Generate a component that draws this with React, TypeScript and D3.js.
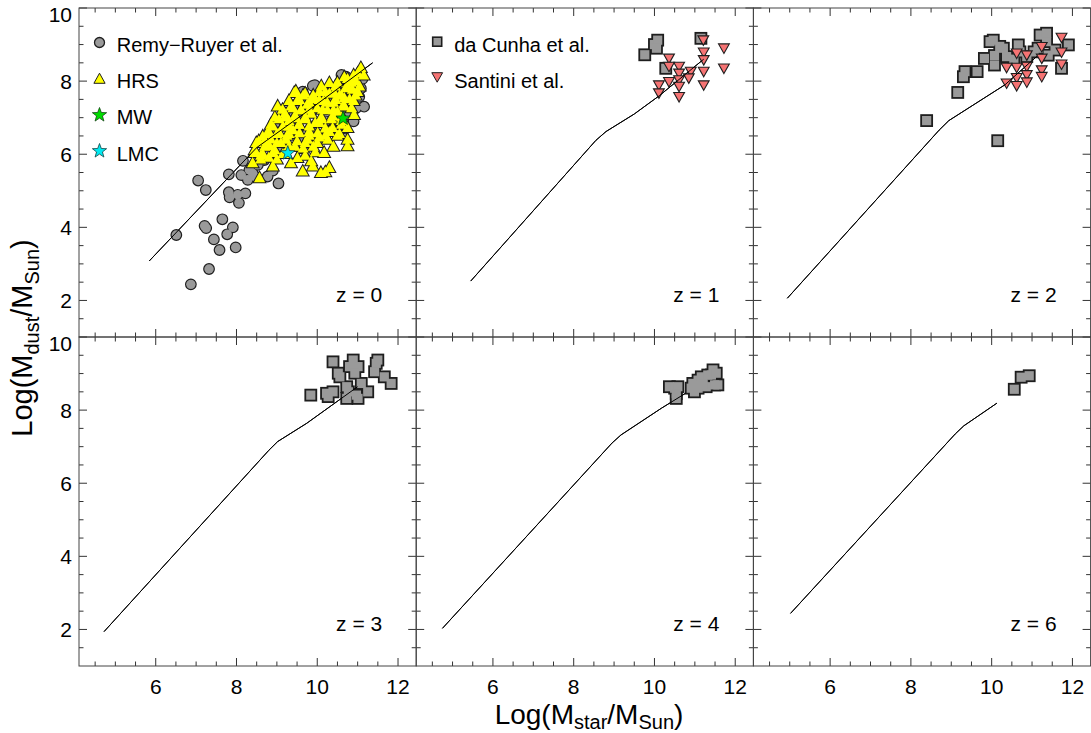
import React from 'react';
import * as d3 from 'd3';

const W = 1091;
const H = 733;

const xDomain: [number, number] = [4.1, 12.45];
const yDomain: [number, number] = [1, 10];
const xMajorTicks = [6, 8, 10, 12];
const yMajorTicks = [2, 4, 6, 8, 10];
const panelLabels = ['z = 0', 'z = 1', 'z = 2', 'z = 3', 'z = 4', 'z = 6'];

// model relations (log Mstar, log Mdust)
const modelZ0 = [[5.84, 3.08], [8.5, 6.18], [8.75, 6.38], [9.76, 7.18], [11.37, 8.5]];
const modelZ1 = [[5.45, 2.53], [8.55, 6.38], [8.8, 6.62], [9.5, 7.1], [10.12, 7.6], [11.22, 8.6]];
const modelZ2 = [[4.94, 2.06], [8.7, 6.66], [8.94, 6.92], [10.33, 7.9], [11.12, 8.68]];
const modelZ3 = [[4.72, 1.94], [8.8, 6.9], [9.02, 7.14], [9.74, 7.64], [11.0, 8.64]];
const modelZ4 = [[4.75, 2.03], [8.95, 7.1], [9.17, 7.32], [10.17, 8.05], [10.77, 8.46]];
const modelZ6 = [[5.02, 2.44], [9.1, 7.35], [9.31, 7.57], [10.13, 8.19]];

const remyRuyer = [
  [7.05, 5.28], [7.24, 5.02], [7.81, 5.45], [8.16, 5.82], [7.81, 4.96], [7.83, 4.82], [8.03, 4.89],
  [8.22, 4.93], [8.06, 4.67], [8.28, 5.3], [8.4, 5.48], [9.04, 5.2], [8.9, 5.55], [6.51, 3.79],
  [7.21, 4.04], [7.25, 3.98], [7.65, 4.22], [7.91, 4.0], [7.77, 3.81], [7.44, 3.67], [7.98, 3.45],
  [7.58, 3.38], [7.32, 2.86], [6.87, 2.44],
  [9.94, 7.89], [10.6, 8.17], [10.71, 8.12], [11.04, 8.12], [11.08, 7.8], [11.04, 7.57], [11.16, 7.3],
  [10.96, 7.26], [10.79, 7.16], [10.63, 7.39], [9.64, 7.71], [9.64, 7.48], [9.43, 7.35], [9.35, 7.16],
  [8.94, 6.8], [9.51, 6.62], [9.6, 6.39], [9.6, 6.16], [9.27, 6.21], [9.06, 6.12], [8.69, 5.84],
  [8.53, 5.71], [8.32, 5.57], [8.12, 5.43], [8.45, 5.39], [8.77, 5.39], [11.12, 8.06], [10.79, 7.76],
  [9.89, 7.87], [10.3, 7.6], [10.5, 7.0], [10.9, 6.9], [10.7, 6.7], [10.2, 6.9], [9.9, 6.6],
];

const hrs = [
  [11.08, 8.35], [10.9, 8.15], [10.67, 8.1], [10.95, 8.0], [11.15, 8.15],
  [10.3, 7.94], [10.5, 7.95], [10.75, 7.85], [10.87, 7.76], [11.0, 7.7], [10.1, 7.85],
  [9.43, 7.67], [9.47, 7.71], [9.7, 7.65], [10.42, 7.67], [10.6, 7.6], [9.9, 7.6], [10.2, 7.7],
  [9.56, 7.48], [10.05, 7.48], [10.46, 7.48], [10.67, 7.53], [9.3, 7.45], [9.8, 7.4], [10.25, 7.4], [10.9, 7.45],
  [9.02, 7.3], [9.14, 7.21], [9.8, 7.21], [10.13, 7.21], [10.67, 7.3], [9.4, 7.25], [9.6, 7.2], [10.4, 7.2], [10.85, 7.25],
  [9.47, 6.98], [10.38, 7.03], [10.91, 7.07], [8.95, 7.0], [9.2, 7.0], [9.7, 7.0], [10.1, 6.95], [10.6, 7.0],
  [9.31, 6.75], [9.8, 6.75], [10.05, 6.85], [10.38, 6.71], [10.75, 6.71], [8.85, 6.8], [9.55, 6.8], [10.6, 6.8],
  [8.65, 6.48], [9.06, 6.57], [9.56, 6.57], [10.01, 6.57], [10.2, 6.5], [8.8, 6.6], [9.3, 6.55], [9.8, 6.5], [10.5, 6.5],
  [8.49, 6.3], [9.23, 6.39], [9.76, 6.39], [10.26, 6.39], [10.75, 6.39], [8.7, 6.35], [9.0, 6.3], [9.5, 6.35], [10.0, 6.3],
  [8.82, 6.21], [10.75, 6.21], [9.3, 6.2], [9.65, 6.15], [10.4, 6.2],
  [8.45, 6.03], [8.9, 6.03], [10.17, 6.03], [8.65, 6.0], [9.15, 6.0], [9.7, 5.95], [9.95, 6.05],
  [8.4, 5.75], [9.35, 5.75], [9.51, 5.89], [8.6, 5.85], [9.0, 5.85], [9.85, 5.8],
  [8.9, 5.66], [9.89, 5.66], [10.3, 5.62], [9.64, 5.52], [10.09, 5.48], [8.57, 5.34], [10.2, 5.5],
  [8.45, 6.1], [8.55, 6.35], [8.6, 5.95], [8.7, 6.2], [8.75, 6.55], [8.8, 5.9], [8.85, 6.4], [8.9, 6.75],
  [8.95, 6.1], [9.0, 6.55], [9.05, 6.95], [9.1, 6.3], [9.15, 6.75], [9.2, 7.1], [9.25, 6.5], [9.3, 6.9],
  [9.35, 7.3], [9.4, 6.65], [9.45, 7.05], [9.5, 7.45], [9.55, 6.8], [9.6, 7.2], [9.65, 7.6], [9.7, 6.95],
  [9.75, 7.35], [9.8, 6.6], [9.85, 7.1], [9.9, 7.5], [9.95, 6.85], [10.0, 7.25], [10.05, 7.7], [10.1, 7.0],
  [10.15, 7.45], [10.2, 6.7], [10.25, 7.2], [10.3, 7.65], [10.35, 6.95], [10.4, 7.4], [10.45, 7.85], [10.5, 7.15],
  [10.55, 7.6], [10.6, 6.9], [10.65, 7.35], [10.7, 7.8], [10.75, 8.05], [10.8, 7.5], [10.85, 7.95], [10.95, 7.6],
  [11.0, 8.2], [11.05, 7.85], [9.2, 6.0], [9.45, 6.2], [9.7, 6.3], [9.9, 6.2], [10.05, 6.45], [10.3, 6.6], [10.55, 6.55],
];

const milkyWay = [[10.64, 6.98]];
const lmc = [[9.27, 6.03]];

const daCunhaZ1 = [[9.76, 8.72], [10.0, 9.0], [10.08, 9.12], [10.05, 8.9], [10.28, 8.35], [11.15, 9.17]];
const santiniZ1 = [
  [11.21, 9.12], [11.22, 8.79], [11.22, 8.58], [11.22, 8.26], [11.22, 7.89], [11.72, 8.9], [11.72, 8.35],
  [10.9, 8.26], [10.85, 8.08], [10.61, 8.4], [10.61, 8.21], [10.61, 8.03], [10.61, 7.85], [10.61, 7.57],
  [10.36, 8.62], [10.36, 8.4], [10.36, 7.98], [10.11, 7.89], [10.11, 7.67],
];

const daCunhaZ2 = [
  [8.39, 6.92], [10.15, 6.37], [9.16, 7.69], [9.3, 8.12], [9.34, 8.26], [9.64, 8.26], [9.82, 8.62],
  [9.96, 9.08], [10.04, 9.12], [10.07, 8.7], [10.07, 8.44], [10.29, 8.9], [10.37, 8.67], [10.66, 8.99],
  [10.7, 8.8], [10.87, 8.67], [11.15, 8.9], [11.2, 9.26], [11.36, 9.31], [11.36, 9.08], [11.4, 8.71],
  [11.57, 8.85], [11.73, 8.35], [11.9, 8.99], [10.2, 8.95], [10.55, 8.6], [11.05, 8.8],
];
const santiniZ2 = [
  [11.73, 9.19], [11.73, 8.79], [11.73, 8.46], [11.24, 8.94], [11.24, 8.62], [11.24, 8.3], [11.24, 8.12],
  [10.87, 8.71], [10.87, 8.4], [10.87, 8.17], [10.87, 7.97], [10.62, 8.76], [10.62, 8.37], [10.62, 8.09],
  [10.62, 7.87], [10.37, 8.37], [10.37, 7.94],
];

const daCunhaZ3 = [
  [9.84, 8.41], [10.23, 8.46], [10.39, 8.5], [10.27, 8.37], [10.39, 9.32], [10.52, 9.01], [10.56, 8.91],
  [10.8, 9.19], [10.89, 9.37], [11.01, 9.19], [10.93, 9.01], [10.73, 8.64], [10.77, 8.5], [10.73, 8.32],
  [10.97, 8.41], [11.01, 8.32], [11.09, 8.73], [11.25, 8.5], [11.42, 9.05], [11.46, 9.28], [11.5, 9.37],
  [11.66, 8.91], [11.83, 8.73],
];
const daCunhaZ4 = [
  [10.37, 8.64], [10.5, 8.6], [10.58, 8.64], [10.54, 8.32], [10.54, 8.45], [10.95, 8.73], [10.99, 8.5],
  [10.91, 8.6], [11.08, 8.82], [11.16, 8.91], [11.2, 8.87], [11.32, 8.96], [11.41, 8.96], [11.45, 9.1],
  [11.53, 9.01], [11.49, 8.69], [11.57, 8.69], [11.28, 8.64], [11.08, 8.6], [11.2, 8.7],
];
const daCunhaZ6 = [[10.56, 8.57], [10.73, 8.9], [10.93, 8.94]];

const models = [modelZ0, modelZ1, modelZ2, modelZ3, modelZ4, modelZ6];
const squaresByPanel = [[], daCunhaZ1, daCunhaZ2, daCunhaZ3, daCunhaZ4, daCunhaZ6];
const santiniByPanel = [[], santiniZ1, santiniZ2, [], [], []];

const GRAY = '#9a9a9a';
const EDGE = '#1e1e1e';
const YELLOW = '#ffff00';
const SALMON = '#f57373';
const FONT = '"Liberation Sans", Arial, Helvetica, sans-serif';

const left0 = 79;
const panelW = 337.2;
const top0 = 8;
const panelH = 329;

const triUp = 'M0,-6.3L5.6,3.8L-5.6,3.8Z';
const triDown = 'M0,5.2L5.4,-4.3L-5.4,-4.3Z';
function starPath(R: number, r: number) {
  const pts: string[] = [];
  for (let i = 0; i < 10; i++) {
    const a = -Math.PI / 2 + (i * Math.PI) / 5;
    const rr = i % 2 === 0 ? R : r;
    pts.push(`${(rr * Math.cos(a)).toFixed(2)},${(rr * Math.sin(a)).toFixed(2)}`);
  }
  return 'M' + pts.join('L') + 'Z';
}
const star = starPath(7.5, 3.1);

function Panel({ idx }: { idx: number }) {
  const col = idx % 3;
  const row = Math.floor(idx / 3);
  const x0 = left0 + col * panelW;
  const y0 = top0 + row * panelH;
  const x = d3.scaleLinear().domain(xDomain).range([x0, x0 + panelW]);
  const y = d3.scaleLinear().domain(yDomain).range([y0 + panelH, y0]);
  const line = d3.line<number[]>().x((d) => x(d[0])).y((d) => y(d[1]));

  const xMinor = d3.range(4.5, 12.01, 0.5).filter((v) => !xMajorTicks.includes(v));
  const yMinor = d3.range(1.5, 9.51, 0.5).filter((v) => !yMajorTicks.includes(v));
  const ticks: JSX.Element[] = [];
  const tc = '#333';
  const addX = (v: number, len: number, k: string) => {
    const px = x(v);
    ticks.push(<line key={'xb' + k} x1={px} x2={px} y1={y0 + panelH} y2={y0 + panelH - len} stroke={tc} strokeWidth={1} />);
    ticks.push(<line key={'xt' + k} x1={px} x2={px} y1={y0} y2={y0 + len} stroke={tc} strokeWidth={1} />);
  };
  const addY = (v: number, len: number, k: string) => {
    const py = y(v);
    ticks.push(<line key={'yl' + k} x1={x0} x2={x0 + len} y1={py} y2={py} stroke={tc} strokeWidth={1} />);
    ticks.push(<line key={'yr' + k} x1={x0 + panelW} x2={x0 + panelW - len} y1={py} y2={py} stroke={tc} strokeWidth={1} />);
  };
  xMajorTicks.forEach((v) => addX(v, 8, 'M' + v));
  xMinor.forEach((v) => addX(v, 4.5, 'm' + v));
  yMajorTicks.forEach((v) => addY(v, 8, 'M' + v));
  yMinor.forEach((v) => addY(v, 4.5, 'm' + v));

  const squares = squaresByPanel[idx];
  const sant = santiniByPanel[idx];
  const half = 4.6;

  return (
    <g>
      <path d={line(models[idx]) || ''} fill="none" stroke="#000" strokeWidth={1} />
      {idx === 0 && (
        <g>
          <g>
            {remyRuyer.map((d, i) => (
              <circle key={i} cx={x(d[0])} cy={y(d[1])} r={4.7} fill={GRAY} stroke={EDGE} strokeWidth={2.4} />
            ))}
          </g>
          <g>
            {remyRuyer.map((d, i) => (
              <circle key={i} cx={x(d[0])} cy={y(d[1])} r={4.7} fill={GRAY} />
            ))}
          </g>
          <g>
            {hrs.map((d, i) => (
              <path key={i} d={triUp} transform={`translate(${x(d[0])},${y(d[1])})`} fill={YELLOW} stroke={EDGE} strokeWidth={2} strokeLinejoin="miter" />
            ))}
          </g>
          <g>
            {hrs.map((d, i) => (
              <path key={i} d={triUp} transform={`translate(${x(d[0])},${y(d[1])})`} fill={YELLOW} />
            ))}
          </g>
          <path d={line(modelZ0) || ''} fill="none" stroke="#000" strokeWidth={1} />
          {milkyWay.map((d, i) => (
            <path key={'mw' + i} d={star} transform={`translate(${x(d[0])},${y(d[1])})`} fill="#00dd00" stroke="#114411" strokeWidth={0.8} />
          ))}
          {lmc.map((d, i) => (
            <path key={'lmc' + i} d={star} transform={`translate(${x(d[0])},${y(d[1])})`} fill="#00e8f0" stroke="#114444" strokeWidth={0.8} />
          ))}
        </g>
      )}
      {squares.length > 0 && (
        <g>
          <g>
            {squares.map((d, i) => (
              <rect key={i} x={x(d[0]) - half} y={y(d[1]) - half} width={half * 2} height={half * 2} fill={GRAY} stroke={EDGE} strokeWidth={3.6} />
            ))}
          </g>
          <g>
            {squares.map((d, i) => (
              <rect key={i} x={x(d[0]) - half} y={y(d[1]) - half} width={half * 2} height={half * 2} fill={GRAY} />
            ))}
          </g>
        </g>
      )}
      {sant.map((d, i) => (
        <path key={'s' + i} d={triDown} transform={`translate(${x(d[0])},${y(d[1])})`} fill={SALMON} stroke={EDGE} strokeWidth={1.1} />
      ))}
      {idx > 0 && <path d={line(models[idx]) || ''} fill="none" stroke="#000" strokeWidth={1} />}
      {ticks}
      <rect x={x0} y={y0} width={panelW} height={panelH} fill="none" stroke="#444" strokeWidth={1} />
      <text x={x0 + panelW - 34} y={y0 + 294} textAnchor="end" fontSize={21} fontFamily={FONT} fill="#000">
        {panelLabels[idx]}
      </text>
      {col === 0 &&
        yMajorTicks.map((v) => (
          <text key={'yl' + v} x={72} y={y(v) + (v === 10 ? 14 : 7.5)} textAnchor="end" fontSize={21} fontFamily={FONT} fill="#000">
            {v}
          </text>
        ))}
      {row === 1 &&
        xMajorTicks.map((v) => (
          <text key={'xl' + v} x={x(v)} y={694} textAnchor="middle" fontSize={21} fontFamily={FONT} fill="#000">
            {v}
          </text>
        ))}
    </g>
  );
}

export default function App() {
  const p1 = left0;
  const p2 = left0 + panelW;
  const legendFont = 20;
  return (
    <svg width={W} height={H} style={{ position: 'absolute', left: 0, top: 0, background: '#fff' }}>
      <rect width={W} height={H} fill="#fff" />
      {[0, 1, 2, 3, 4, 5].map((i) => (
        <Panel key={i} idx={i} />
      ))}
      {/* legend panel 1 */}
      <g fontFamily={FONT} fontSize={legendFont} fill="#000">
        <circle cx={p1 + 20.5} cy={42.5} r={5} fill={GRAY} stroke={EDGE} strokeWidth={1.3} />
        <text x={p1 + 37.7} y={52}>Remy−Ruyer et al.</text>
        <path d={triUp} transform={`translate(${p1 + 20.5},${79.5})`} fill={YELLOW} stroke={EDGE} strokeWidth={1} />
        <text x={p1 + 37.7} y={88}>HRS</text>
        <path d={star} transform={`translate(${p1 + 20.5},${115})`} fill="#00dd00" stroke="#114411" strokeWidth={0.8} />
        <text x={p1 + 37.7} y={124}>MW</text>
        <path d={star} transform={`translate(${p1 + 20.5},${151})`} fill="#00e8f0" stroke="#114444" strokeWidth={0.8} />
        <text x={p1 + 37.7} y={161}>LMC</text>
        {/* legend panel 2 */}
        <rect x={p2 + 21 - 4.5} y={41.7 - 4.5} width={9} height={9} fill={GRAY} stroke={EDGE} strokeWidth={1.6} />
        <text x={p2 + 38} y={52}>da Cunha et al.</text>
        <path d={triDown} transform={`translate(${p2 + 21},${77})`} fill={SALMON} stroke={EDGE} strokeWidth={1} />
        <text x={p2 + 38} y={88}>Santini et al.</text>
      </g>
      {/* axis titles */}
      <text x={589} y={724} textAnchor="middle" fontFamily={FONT} fontSize={28} fill="#000">
        Log(M<tspan fontSize={20} dy={5}>star</tspan><tspan dy={-5}>/M</tspan><tspan fontSize={20} dy={5}>Sun</tspan><tspan dy={-5}>)</tspan>
      </text>
      <text transform="translate(32,338) rotate(-90)" textAnchor="middle" fontFamily={FONT} fontSize={29} fill="#000">
        Log(M<tspan fontSize={20} dy={7}>dust</tspan><tspan dy={-7}>/M</tspan><tspan fontSize={20} dy={7}>Sun</tspan><tspan dy={-7}>)</tspan>
      </text>
    </svg>
  );
}
